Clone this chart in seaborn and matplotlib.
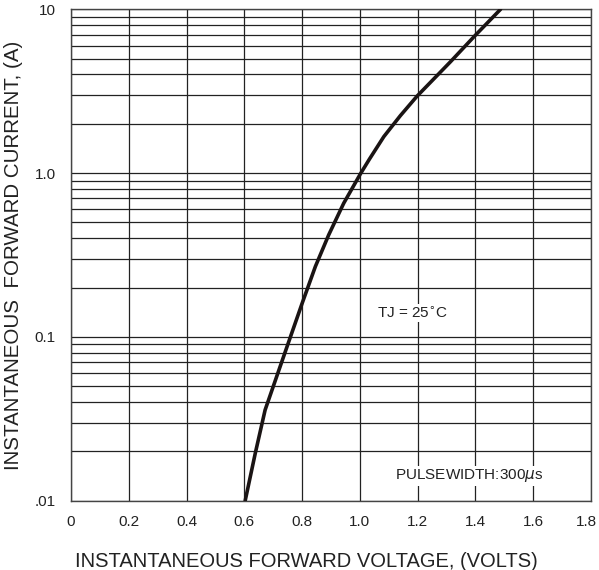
import matplotlib
matplotlib.use("Agg")
import matplotlib.pyplot as plt
import matplotlib.transforms as mtransforms
import pandas as pd
import seaborn as sns
from matplotlib.ticker import FixedLocator, LogLocator, NullFormatter

# Forward characteristic
voltage = [0.603, 0.638, 0.672, 0.724, 0.748, 0.800, 0.846, 0.892, 0.944,
           1.002, 1.033, 1.083, 1.140, 1.198, 1.314, 1.398, 1.487]
current = [0.010, 0.0195, 0.0358, 0.0659, 0.0873, 0.160, 0.269, 0.419, 0.654,
           0.99, 1.216, 1.67, 2.24, 2.95, 4.79, 6.89, 10.0]

x_ticks = [0, 0.2, 0.4, 0.6, 0.8, 1.0, 1.2, 1.4, 1.6, 1.8]
x_tick_labels = ["0", "0.2", "0.4", "0.6", "0.8", "1.0", "1.2", "1.4", "1.6", "1.8"]
y_ticks = [0.01, 0.1, 1.0, 10]
y_tick_labels = [".01", "0.1", "1.0", "10"]

sns.set_style("white")
plt.rcParams["font.family"] = ["Liberation Sans", "DejaVu Sans"]

df = pd.DataFrame({"Voltage": voltage, "Current": current})

fig = plt.figure(figsize=(5.99, 5.70), dpi=100)
ax = fig.add_axes([0.1185, 0.1216, 0.8681, 0.8621])

sns.lineplot(data=df, x="Voltage", y="Current", ax=ax, color="#1a1414",
             linewidth=2.6, zorder=5)

ax.set_yscale("log")
ax.set_xlim(0, 1.8)
ax.set_ylim(0.01, 10)

ax.xaxis.set_major_locator(FixedLocator(x_ticks))
ax.set_xticklabels(x_tick_labels)
ax.yaxis.set_major_locator(FixedLocator(y_ticks))
ax.set_yticklabels(y_tick_labels)
ax.yaxis.set_minor_locator(LogLocator(base=10, subs=range(2, 10)))
ax.yaxis.set_minor_formatter(NullFormatter())

ax.grid(True, which="major", color="#222222", linewidth=0.9)
ax.grid(True, which="minor", axis="y", color="#222222", linewidth=0.9)

ax.tick_params(axis="both", which="both", length=0, labelsize=11, colors="#222222")
ax.tick_params(axis="x", pad=10)
ax.tick_params(axis="y", pad=11)

# keep the last x label inside the figure, like the reference
last = ax.get_xticklabels()[-1]
last.set_transform(last.get_transform() +
                   mtransforms.ScaledTranslation(-0.05, 0, fig.dpi_scale_trans))

for spine in ax.spines.values():
    spine.set_color("#444444")
    spine.set_linewidth(1.0)

ax.set_xlabel("INSTANTANEOUS FORWARD VOLTAGE, (VOLTS)", fontsize=14.5,
              color="#222222", labelpad=12)
ax.xaxis.set_label_coords(0.453, -0.105)
ax.set_ylabel("INSTANTANEOUS  FORWARD CURRENT, (A)", fontsize=14.8,
              color="#222222", labelpad=8)

box = dict(facecolor="white", edgecolor="none", pad=1)
ax.text(1.06, 0.14, "TJ = 25$^{\\circ}$C", fontsize=11, color="#222222",
        va="center", ha="left", bbox=box, zorder=6)
ax.text(1.12, 0.0142, "PULSEWIDTH:300$\\mu$s", fontsize=11, color="#222222",
        va="center", ha="left", bbox=box, zorder=6)

fig.savefig("out.png", dpi=100)
